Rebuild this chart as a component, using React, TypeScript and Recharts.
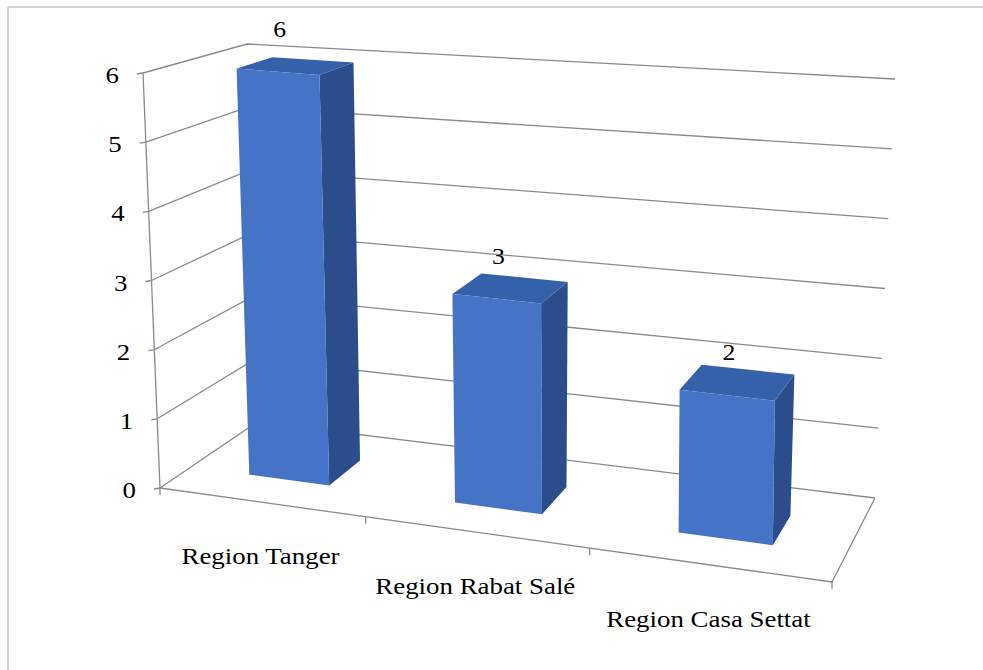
import React from 'react';
import { BarChart, Bar, XAxis, YAxis, CartesianGrid, LabelList } from 'recharts';

const regions = ['Region Tanger', 'Region Rabat Salé', 'Region Casa Settat'];
const counts = [6, 3, 2];
const valueTicks = [0, 1, 2, 3, 4, 5, 6];

const data = regions.map((region, i) => ({ region, count: counts[i] }));

// flat chart box; the plot rectangle is projected onto a 3D "room" below
const W = 983;
const H = 670;
const M = { top: 100, right: 100, bottom: 100, left: 100 };
const AX = 1; // axes need a non-zero size to draw their ticks
const PL = M.left + AX;
const PW = W - M.left - M.right - AX;
const PH = H - M.top - M.bottom - AX;

type Pt = [number, number];

// screen corners of the room: Front/Back, Left/Right, Bottom/Top
const FLB: Pt = [160, 488];
const FRB: Pt = [832, 582];
const BLB: Pt = [257, 422];
const BRB: Pt = [875, 498];
const FLT: Pt = [143, 73];
const FRT: Pt = [836, 136];
const BLT: Pt = [247, 44];
const BRT: Pt = [895, 79];
const BAR_DEPTH = [0.32, 0.68];

const GRID = '#8a8a8a';
const FONT = '"Liberation Serif", "Times New Roman", serif';

const lerp = (a: Pt, b: Pt, t: number): Pt => [a[0] + (b[0] - a[0]) * t, a[1] + (b[1] - a[1]) * t];

// u: 0..1 left->right, v: 0..1 bottom->top, w: 0..1 front->back
const proj = (u: number, v: number, w: number): Pt => {
  const s = u * (0.877 + 0.123 * u); // perspective: right side is closer
  const bot = lerp(lerp(FLB, FRB, s), lerp(BLB, BRB, s), w);
  const top = lerp(lerp(FLT, FRT, s), lerp(BLT, BRT, s), w);
  return lerp(bot, top, v);
};

const toU = (x: number) => (x - PL) / PW;
const toV = (y: number) => (M.top + PH - y) / PH;
const pts = (list: Pt[]) => list.map((p) => `${p[0].toFixed(1)},${p[1].toFixed(1)}`).join(' ');

const GridLine = (props: any) => {
  const v = toV(props.y1);
  const a = proj(0, v, 0);
  const b = proj(0, v, 1);
  const c = proj(1, v, 1);
  const isFloor = Math.abs(v) < 1e-3;
  return (
    <g>
      <polyline points={pts([a, b, c])} fill="none" stroke={GRID} strokeWidth={1.3} />
      <line x1={a[0]} y1={a[1]} x2={a[0] - 6} y2={a[1] + 1} stroke={GRID} strokeWidth={1.3} />
      {isFloor && (
        <g>
          <polyline points={pts([a, proj(1, 0, 0), proj(1, 0, 1)])} fill="none" stroke={GRID} strokeWidth={1.3} />
          <polyline points={pts([[a[0], a[1] + 7], a, proj(0, 1, 0)])} fill="none" stroke={GRID} strokeWidth={1.3} />
        </g>
      )}
    </g>
  );
};

const renderXTick = (props: any) => {
  const { x, payload } = props;
  const half = 1 / (2 * regions.length);
  const uc = toU(x);
  const p = proj(uc, 0, 0);
  const edge = proj(uc + half, 0, 0);
  return (
    <g>
      <line x1={edge[0]} y1={edge[1]} x2={edge[0]} y2={edge[1] + 7} stroke={GRID} strokeWidth={1.3} />
      <text
        transform={`translate(${p[0].toFixed(1)},${(p[1] + 62).toFixed(1)}) scale(1.12,1)`}
        textAnchor="middle"
        fontFamily={FONT}
        fontSize={24}
        fill="#000"
      >
        {payload.value}
      </text>
    </g>
  );
};

const renderYTick = (props: any) => {
  const { y, payload } = props;
  const p = proj(0, toV(y), 0);
  return (
    <text
      transform={`translate(${(p[0] - 24).toFixed(1)},${(p[1] + 2).toFixed(1)}) scale(1.12,1)`}
      textAnchor="end"
      dominantBaseline="central"
      fontFamily={FONT}
      fontSize={24}
      fill="#000"
    >
      {payload.value}
    </text>
  );
};

const Bar3D = (props: any) => {
  const { x, y, width } = props;
  const u0 = toU(x);
  const u1 = toU(x + width);
  const v = toV(y);
  const [w0, w1] = BAR_DEPTH;
  const front = [proj(u0, 0, w0), proj(u1, 0, w0), proj(u1, v, w0), proj(u0, v, w0)];
  const side = [proj(u1, 0, w0), proj(u1, 0, w1), proj(u1, v, w1), proj(u1, v, w0)];
  const top = [proj(u0, v, w0), proj(u1, v, w0), proj(u1, v, w1), proj(u0, v, w1)];
  return (
    <g>
      <polygon points={pts(side)} fill="#2c4d8c" />
      <polygon points={pts(top)} fill="#3560aa" />
      <polygon points={pts(front)} fill="#4573c6" />
    </g>
  );
};

const renderValueLabel = (props: any) => {
  const { x, y, width, value } = props;
  const p = proj((toU(x) + toU(x + width)) / 2, toV(y), BAR_DEPTH[0]);
  return (
    <text
      transform={`translate(${(p[0] + 2).toFixed(1)},${(p[1] - 35).toFixed(1)}) scale(1.12,1)`}
      textAnchor="middle"
      fontFamily={FONT}
      fontSize={23}
      fill="#000"
    >
      {value}
    </text>
  );
};

export default function App() {
  return (
    <div style={{ position: 'absolute', left: 0, top: 0, width: W, height: H, background: '#fff' }}>
      <BarChart width={W} height={H} data={data} margin={M} barCategoryGap="30%">
        <line x1={8} y1={7} x2={W} y2={7} stroke="#c4c4c4" strokeWidth={1.5} />
        <line x1={8} y1={7} x2={8} y2={H} stroke="#c4c4c4" strokeWidth={1.5} />
        <CartesianGrid horizontal={GridLine} vertical={false} />
        <XAxis dataKey="region" height={AX} axisLine={false} tickLine={false} interval={0} tick={renderXTick} />
        <YAxis
          width={AX}
          domain={[0, 6]}
          ticks={valueTicks}
          interval={0}
          axisLine={false}
          tickLine={false}
          tick={renderYTick}
        />
        <Bar dataKey="count" shape={Bar3D} isAnimationActive={false}>
          <LabelList dataKey="count" content={renderValueLabel} />
        </Bar>
      </BarChart>
    </div>
  );
}
